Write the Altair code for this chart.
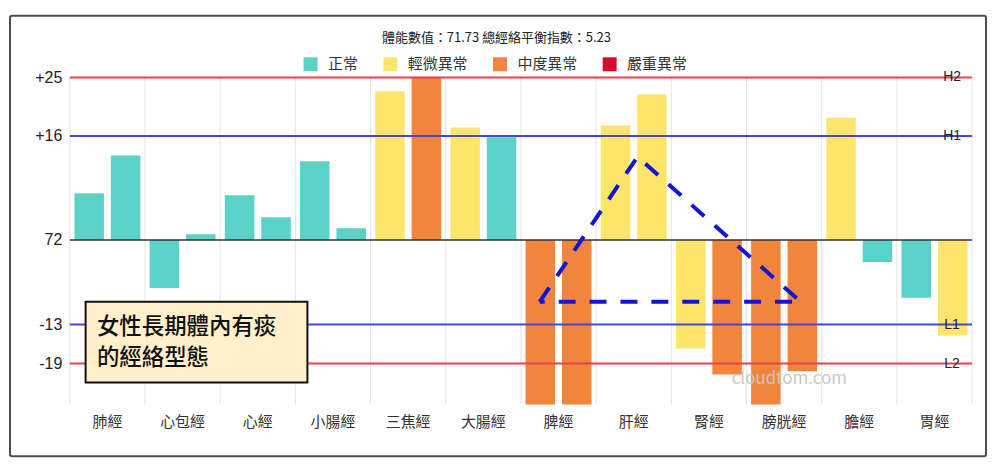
import altair as alt
import pandas as pd

# ---------------- data ----------------
categories = ["肺經", "心包經", "心經", "小腸經", "三焦經", "大腸經",
              "脾經", "肝經", "腎經", "膀胱經", "膽經", "胃經"]
left_values = [7.2, -7.4, 6.9, 12.1, 22.9, 17.3, -26.0, 17.6, -16.7, -26.0, 18.8, -8.9]
right_values = [13.0, 0.9, 3.5, 1.8, 25.0, 15.8, -26.0, 22.4, -20.7, -20.2, -3.4, -14.7]
left_status = ["正常", "正常", "正常", "正常", "輕微異常", "輕微異常",
               "中度異常", "輕微異常", "輕微異常", "中度異常", "輕微異常", "正常"]
right_status = ["正常", "正常", "正常", "正常", "中度異常", "正常",
                "中度異常", "輕微異常", "中度異常", "中度異常", "正常", "輕微異常"]
sides = ["左", "右"]

status_levels = ["正常", "輕微異常", "中度異常", "嚴重異常"]
status_colors = ["#5ad2c8", "#fde46b", "#f0853b", "#d60c2d"]

ref_values = [25, 16, -13, -19]
ref_labels = ["H2", "H1", "L1", "L2"]
ref_colors = ["#e8434a", "#4747d6", "#4747d6", "#e8434a"]

y_tick_values = [25, 16, 0, -13, -19]
y_tick_labels = ["+25", "+16", "72", "-13", "-19"]

title_text = "體能數值：71.73 總經絡平衡指數：5.23"
note_lines = ["女性長期體內有痰", "的經絡型態"]
watermark_text = "cloudtom.com"

# annotation geometry in category units (0 = left edge of 肺經) and value units
tri_x = [6.25, 7.55, 9.72, 6.25]
tri_y = [-9.5, 12.8, -9.5, -9.5]
box_x = [0.21, 3.16]
box_y = [-9.5, -21.9]
note_x = [0.36, 0.36]
note_y = [-13.4, -18.1]
wm_x = [9.57]
wm_y = [-21.4]

FONT = "Noto Sans CJK TC"
NUM_FONT = "Liberation Sans"
W, H = 905, 328

# ---------------- tables ----------------
bar_df = pd.DataFrame({
    "經絡": categories * 2,
    "側": [sides[0]] * len(categories) + [sides[1]] * len(categories),
    "值": left_values + right_values,
    "狀態": left_status + right_status,
})
ref_df = pd.DataFrame({"值": ref_values, "標籤": ref_labels, "色": ref_colors})
cat_df = pd.DataFrame({"經絡": categories})
last_df = pd.DataFrame({"經絡": categories[-1:]})
tri_df = pd.DataFrame({"x": tri_x, "y": tri_y, "o": list(range(len(tri_x)))})
box_df = pd.DataFrame({"x1": [box_x[0]], "x2": [box_x[1]], "y1": [box_y[0]], "y2": [box_y[1]]})
note_df = pd.DataFrame({"x": note_x, "y": note_y, "t": note_lines})
wm_df = pd.DataFrame({"x": wm_x, "y": wm_y, "t": [watermark_text]})
title_df = pd.DataFrame({"t": [title_text]})

label_expr = " : ".join(
    f"datum.value == {v} ? '{l}'" for v, l in zip(y_tick_values, y_tick_labels)
) + " : ''"

y_scale = alt.Scale(domain=[-25.3, 25], nice=False, zero=False)
y_axis = alt.Axis(values=y_tick_values, labelExpr=label_expr, ticks=False, domain=False,
                  grid=False, labelFontSize=16, labelFont=NUM_FONT, labelColor="#222222",
                  labelPadding=8, title=None)
x_scale = alt.Scale(domain=categories, paddingInner=0, paddingOuter=0)
x_axis = alt.Axis(title=None, labelAngle=0, ticks=False, domain=False, grid=False,
                  labelFontSize=15, labelColor="#333333", labelPadding=10)

# ---------------- nominal layers ----------------
grid = alt.Chart(cat_df).mark_rule(color="#e4e4e4", strokeWidth=1).encode(
    x=alt.X("經絡:N", sort=categories, scale=x_scale, axis=x_axis, bandPosition=0)
)
grid_end = alt.Chart(last_df).mark_rule(color="#e4e4e4", strokeWidth=1).encode(
    x=alt.X("經絡:N", sort=categories, scale=x_scale, axis=x_axis, bandPosition=1)
)

bars = alt.Chart(bar_df).mark_bar(clip=True).encode(
    x=alt.X("經絡:N", sort=categories, scale=x_scale, axis=x_axis),
    xOffset=alt.XOffset("側:N", sort=sides,
                        scale=alt.Scale(domain=sides, paddingInner=0.19, paddingOuter=0.127)),
    y=alt.Y("值:Q", scale=y_scale, axis=y_axis, title=None),
    color=alt.Color("狀態:N", scale=alt.Scale(domain=status_levels, range=status_colors),
                    legend=alt.Legend(title=None, orient="none", legendX=234, legendY=-21,
                                      direction="horizontal", symbolType="square",
                                      symbolSize=196, symbolStrokeWidth=0, symbolOpacity=1,
                                      labelFontSize=15, labelColor="#333333",
                                      labelOffset=10, columnPadding=24, labelLimit=200,
                                      padding=0)),
)

ref_lines = alt.Chart(ref_df).mark_rule(strokeWidth=2).encode(
    y=alt.Y("值:Q", scale=y_scale, title=None),
    stroke=alt.Stroke("色:N", scale=None),
)
ref_text = alt.Chart(ref_df).mark_text(fontSize=14, font=NUM_FONT, color="#222222",
                                       align="center", baseline="middle").encode(
    x=alt.value(W - 20),
    y=alt.Y("值:Q", scale=y_scale, title=None),
    text="標籤:N",
)
baseline = alt.Chart(pd.DataFrame({"值": [0]})).mark_rule(color="#333333", strokeWidth=1.5).encode(
    y=alt.Y("值:Q", scale=y_scale, title=None)
)

nominal = alt.layer(grid, grid_end, bars, ref_lines, baseline, ref_text)

# ---------------- annotation layers ----------------
ax_scale = alt.Scale(domain=[0, 12], nice=False, zero=False)

box = alt.Chart(box_df).mark_rect(fill="#fdf0cb", stroke="#111111", strokeWidth=2).encode(
    x=alt.X("x1:Q", scale=ax_scale, axis=None), x2="x2:Q",
    y=alt.Y("y1:Q", scale=y_scale, title=None), y2="y2:Q",
)
note = alt.Chart(note_df).mark_text(align="left", baseline="middle", fontSize=22.5,
                                    fontWeight=500, color="#111111").encode(
    x=alt.X("x:Q", scale=ax_scale, axis=None),
    y=alt.Y("y:Q", scale=y_scale, title=None),
    text="t:N",
)
triangle = alt.Chart(tri_df).mark_line(color="#1414d4", strokeWidth=4,
                                       strokeDash=[17, 14], strokeCap="butt").encode(
    x=alt.X("x:Q", scale=ax_scale, axis=None),
    y=alt.Y("y:Q", scale=y_scale, title=None),
    order="o:Q",
)
wm = alt.Chart(wm_df).mark_text(color="#c8c8c8", fontSize=17, align="center",
                                baseline="middle").encode(
    x=alt.X("x:Q", scale=ax_scale, axis=None),
    y=alt.Y("y:Q", scale=y_scale, title=None),
    text="t:N",
)
title_mark = alt.Chart(title_df).mark_text(fontSize=13, color="#222222", align="center",
                                           baseline="middle").encode(
    x=alt.value(428), y=alt.value(-40), text="t:N"
)
frame = alt.Chart(pd.DataFrame({"a": [0]})).mark_rect(
    fillOpacity=0, stroke="#4d4d4d", strokeWidth=2, cornerRadius=2
).encode(
    x=alt.value(-60), x2=alt.value(919), y=alt.value(-62), y2=alt.value(380)
)

annot = alt.layer(box, note, triangle, wm)

chart = alt.layer(nominal, annot, title_mark, frame).resolve_scale(x="independent").properties(
    width=W, height=H,
    autosize=alt.AutoSizeParams(type="none"),
    padding={"left": 62, "top": 69, "right": 20, "bottom": 56},
).configure(font=FONT).configure_view(stroke=None)

chart.save("out.html", embed_options={"renderer": "svg", "actions": False})
